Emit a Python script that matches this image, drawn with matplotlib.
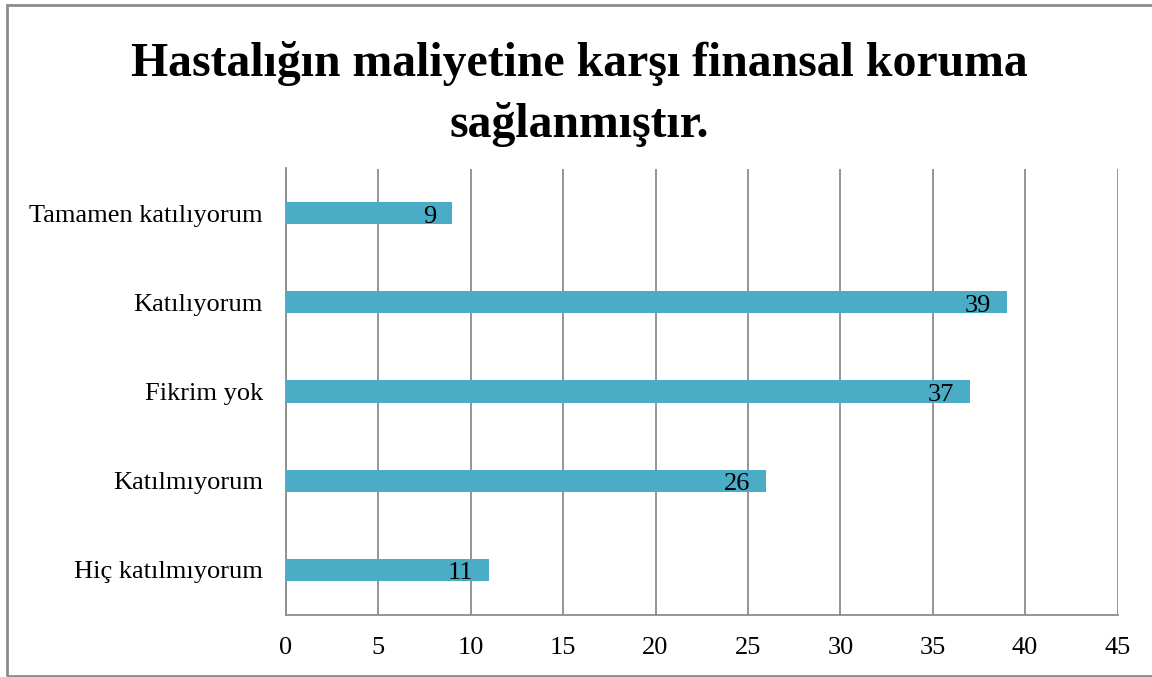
import matplotlib.pyplot as plt
from matplotlib.patches import Rectangle

# Survey answers (top to bottom as shown)
categories = ["Hiç katılmıyorum", "Katılmıyorum", "Fikrim yok", "Katılıyorum", "Tamamen katılıyorum"]
counts = [11, 26, 37, 39, 9]
xticks = [0, 5, 10, 15, 20, 25, 30, 35, 40, 45]

plt.rcParams['font.family'] = ['Liberation Serif', 'DejaVu Serif']

fig = plt.figure(figsize=(11.52, 6.77), dpi=100)
ax = fig.add_axes([286 / 1152, 1 - 614.5 / 677, (1117.5 - 286) / 1152, (614.5 - 168.5) / 677])

bars = ax.barh(range(len(categories)), counts, height=0.25, color="#4BACC6", zorder=3)
for b, v in zip(bars, counts):
    ax.annotate(str(v), (b.get_width(), b.get_y() + b.get_height() / 2),
                xytext=(-11.5, -2.5), textcoords="offset points",
                ha="right", va="center", fontsize=19, color="black", zorder=4)

ax.set_xlim(0, 45)
ax.set_ylim(-0.5, len(categories) - 0.5)
ax.set_xticks(xticks)
ax.set_yticks(range(len(categories)))
ax.set_yticklabels(categories)
ax.tick_params(axis="both", length=0, labelsize=19, colors="black")
ax.tick_params(axis="y", pad=16.5)
ax.tick_params(axis="x", pad=16)
ax.grid(axis="x", color="#8c8c8c", linewidth=1.3, zorder=0)
for s in ["top", "right"]:
    ax.spines[s].set_visible(False)
for s in ["left", "bottom"]:
    ax.spines[s].set_color("#8c8c8c")
    ax.spines[s].set_linewidth(1.3)

fig.text(0.503, 1 - 94 / 677, "Hastalığın maliyetine karşı finansal koruma\nsağlanmıştır.",
         ha="center", va="center", fontsize=34.4, fontweight="bold", linespacing=1.45)

fig.patches.append(Rectangle((7 / 1152, 1 - 675.5 / 677), 1.1, (675.5 - 5) / 677,
                             transform=fig.transFigure, fill=False,
                             edgecolor="#8c8c8c", linewidth=2))

fig.savefig("out.png", dpi=100)
